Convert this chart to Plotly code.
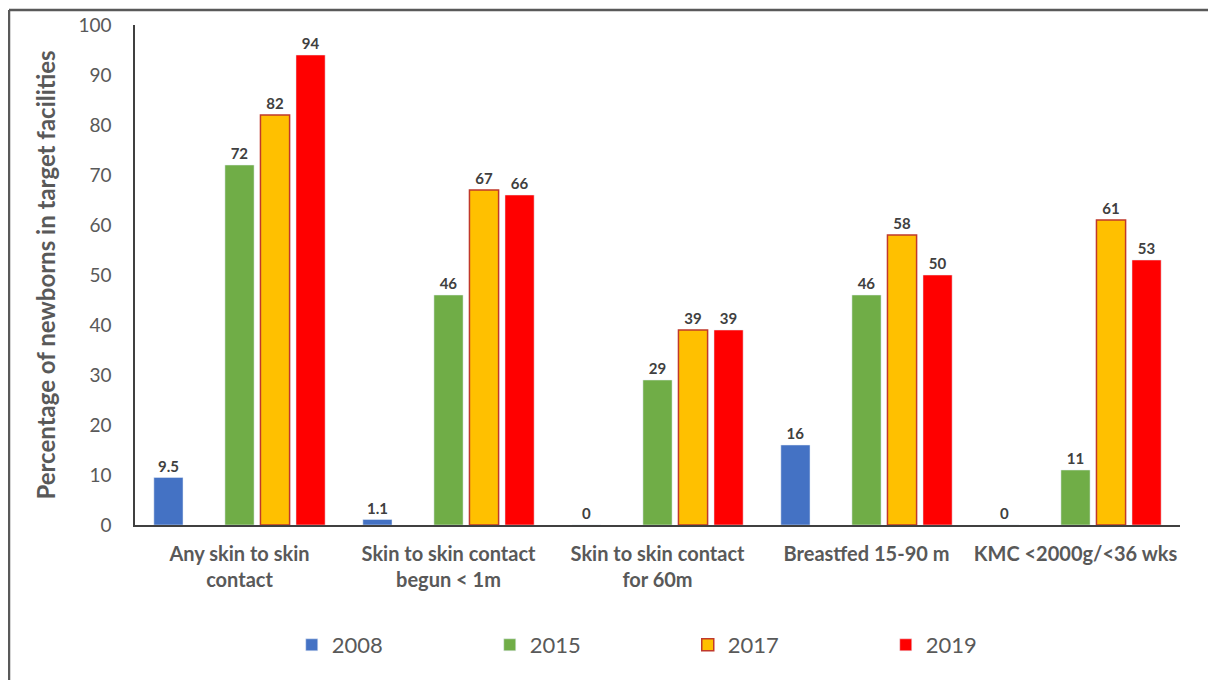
import plotly.graph_objects as go

categories = [
    "Any skin to skin<br>contact",
    "Skin to skin contact<br>begun < 1m",
    "Skin to skin contact<br>for 60m",
    "Breastfed 15-90 m",
    "KMC <2000g/<36 wks",
]
years = ["2008", "2015", "2017", "2019"]
v2008 = [9.5, 1.1, 0, 16, 0]
v2015 = [72, 46, 29, 46, 11]
v2017 = [82, 67, 39, 58, 61]
v2019 = [94, 66, 39, 50, 53]
label2008 = ["9.5", "1.1", "0", "16", "0"]
y_ticks = list(range(0, 101, 10))

colors = {"2008": "#4472C4", "2015": "#70AD47", "2017": "#FFC000", "2019": "#FF0000"}
grey = "#595959"
FONT = "Lato, Open Sans, sans-serif"
label_font = dict(family=FONT, size=15, color="#404040")

fig = go.Figure()
x = list(range(len(categories)))


def lab(vals):
    return [f"<b>{v}</b>" for v in vals]


fig.add_trace(go.Bar(
    x=x, y=v2008, name=years[0], marker=dict(color=colors["2008"]),
    text=lab(label2008), textposition="outside", cliponaxis=False,
    textfont=label_font,
))
# empty slot between 2008 and 2015 in the original chart
fig.add_trace(go.Bar(
    x=x, y=[None] * len(categories), name="", showlegend=False,
    hoverinfo="skip",
))
fig.add_trace(go.Bar(
    x=x, y=v2015, name=years[1], marker=dict(color=colors["2015"]),
    text=lab(v2015), textposition="outside", cliponaxis=False,
    textfont=label_font,
))
fig.add_trace(go.Bar(
    x=x, y=v2017, name=years[2],
    marker=dict(color=colors["2017"], line=dict(color="#C0392B", width=1.5)),
    text=lab(v2017), textposition="outside", cliponaxis=False,
    textfont=label_font,
))
fig.add_trace(go.Bar(
    x=x, y=v2019, name=years[3], marker=dict(color=colors["2019"]),
    text=lab(v2019), textposition="outside", cliponaxis=False,
    textfont=label_font,
))

# page has an 8px body margin; plot area targeted at screen x 135..1180, y 25..525
fig.update_layout(
    width=1216, height=680,
    margin=dict(l=127, r=44, t=17, b=163, autoexpand=False),
    paper_bgcolor="white", plot_bgcolor="white",
    barmode="group", bargap=0.15, bargroupgap=0.18,
    font=dict(family=FONT, color=grey),
    showlegend=True,
    legend=dict(
        orientation="h", x=0.150, xanchor="left", y=-0.24, yanchor="middle",
        font=dict(size=22, color=grey),
        entrywidth=153, entrywidthmode="pixels",
        itemclick=False,
    ),
    xaxis=dict(
        tickmode="array", tickvals=x, ticktext=[f"<b>{c}</b>" for c in categories],
        range=[-0.5, len(categories) - 0.5],
        showline=True, linecolor="#404040", linewidth=1.5,
        ticks="", showgrid=False, zeroline=False,
        tickfont=dict(size=20, color=grey),
        ticklabelstandoff=10, automargin=False,
    ),
    yaxis=dict(
        range=[0, 100], tickmode="array", tickvals=y_ticks,
        showline=True, linecolor="#404040", linewidth=1.5,
        ticks="", showgrid=False, zeroline=False,
        tickfont=dict(size=19, color=grey),
        ticklabelstandoff=18, automargin=False,
        title=dict(text="<b>Percentage of newborns in target facilities</b>",
                   font=dict(size=24, color=grey), standoff=16),
    ),
    shapes=[
        dict(type="line", xref="paper", yref="paper",
             x0=(9 - 135) / 1045, x1=1.2, y0=(525 - 10) / 500, y1=(525 - 10) / 500,
             line=dict(color=grey, width=2.5)),
        dict(type="line", xref="paper", yref="paper",
             x0=(9 - 135) / 1045, x1=(9 - 135) / 1045, y0=(525 - 10) / 500, y1=-0.4,
             line=dict(color=grey, width=2.5)),
    ],
)

fig.write_html("out.html")
